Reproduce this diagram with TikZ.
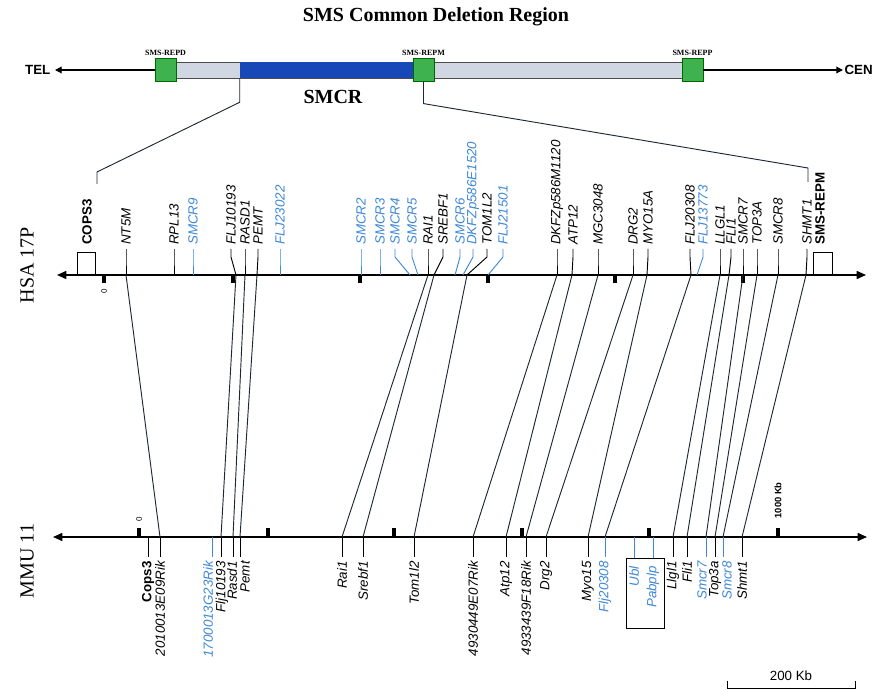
\documentclass[tikz,border=0pt]{standalone}
\usepackage{fontspec}
\setmainfont{Liberation Serif}
\setsansfont{Liberation Sans}
\usetikzlibrary{arrows.meta}
\definecolor{geneblue}{RGB}{62,136,214}
\definecolor{boxgreen}{RGB}{62,178,78}
\definecolor{smcrblue}{RGB}{24,72,184}
\definecolor{bargrey}{RGB}{208,214,226}
\definecolor{linkgrey}{RGB}{30,40,50}

\begin{document}
\begin{tikzpicture}[x=0.75pt,y=-0.75pt,
    genelab/.style={font=\sffamily\itshape\fontsize{10}{10}\selectfont, rotate=90, inner sep=3pt},
    hsalab/.style={genelab, anchor=west},
    mmulab/.style={genelab, anchor=east},
    boldlab/.style={font=\sffamily\bfseries\fontsize{10}{10}\selectfont, rotate=90, inner sep=3pt},
    greenbox/.style={draw=black!60!green, fill=boxgreen, minimum width=15.5pt, minimum height=17pt, inner sep=0pt},
    repslab/.style={font=\bfseries\fontsize{6}{6}\selectfont, inner sep=1pt},
    axisline/.style={line width=1.2pt, {Triangle[length=7pt,width=6pt]}-{Triangle[length=7pt,width=6pt]}},
    toparrow/.style={line width=0.9pt, -{Triangle[length=5pt,width=5pt]}},
    link/.style={linkgrey, line width=0.7pt},
    tick/.style={line width=0.7pt}
]
\useasboundingbox (0,0) rectangle (872,691);

% deletion region
\node[font=\bfseries\fontsize{15}{15}\selectfont] (title) at (436,17) {SMS Common Deletion Region};
\node[draw=black!70, fill=bargrey, minimum width=379.5pt, minimum height=12pt, inner sep=0pt] (greybar) at (429,70) {};
\node[fill=smcrblue, minimum width=131.25pt, minimum height=12pt, inner sep=0pt] (smcrbar) at (327.5,70) {};
\node[greenbox] (repd) at (165.5,70) {};
\node[greenbox] (repm) at (423.5,70) {};
\node[greenbox] (repp) at (692.5,70) {};
\node[repslab, above=1pt] (repdlab) at (repd.north) {SMS-REPD};
\node[repslab, above=1pt] (repmlab) at (repm.north) {SMS-REPM};
\node[repslab, above=1pt] (repplab) at (repp.north) {SMS-REPP};
\node[font=\bfseries\fontsize{15}{15}\selectfont] (smcr) at (333,97) {SMCR};
\node[font=\sffamily\bfseries\fontsize{10}{10}\selectfont, anchor=east] (tel) at (55,70) {TEL};
\node[font=\sffamily\bfseries\fontsize{10}{10}\selectfont, anchor=west, inner sep=1pt] (cen) at (843,70) {CEN};
\draw[toparrow] (repd.west) -- (tel.east);
\draw[toparrow] (repp.east) -- (cen.west);

% species axes
\node[font=\fontsize{15}{15}\selectfont, rotate=90] (hsa) at (27,265) {HSA 17P};
\node[font=\fontsize{15}{15}\selectfont, rotate=90] (mmu) at (27,561) {MMU 11};
\coordinate (hsaL) at (57,275);
\coordinate (hsaR) at (866,275);
\coordinate (mmuL) at (53,537);
\coordinate (mmuR) at (867,537);
\draw[axisline] (hsaL) -- (hsaR);
\draw[axisline] (mmuL) -- (mmuR);
\foreach \x in {104,233,360,488,615,743}
    \fill (\x-1.8,275) rectangle (\x+1.8,283);
\foreach \x in {139,268,394,522,649,778}
    \fill (\x-1.8,528) rectangle (\x+1.8,537);
\node[font=\sffamily\fontsize{6}{6}\selectfont, rotate=90] (hzero) at (104,291) {0};
\node[font=\sffamily\fontsize{6}{6}\selectfont, rotate=90] (mzero) at (139,519) {0};
\node[font=\sffamily\bfseries\fontsize{7}{7}\selectfont, rotate=90, anchor=west] (kb) at (778,523) {1000 Kb};

% human genes
\node[draw, minimum width=13.5pt, minimum height=16.5pt, inner sep=0pt, anchor=south] (copsbox) at (86,275) {};
\node[boldlab, anchor=west] (cops) at (87,249) {COPS3};
\node[draw, minimum width=14.25pt, minimum height=16.5pt, inner sep=0pt, anchor=south] (repmbox) at (822.5,275) {};
\node[boldlab, anchor=west] (repmgene) at (820,249) {SMS-REPM};
\coordinate (zl) at (97,184);
\coordinate (zr) at (808,182);
\draw[link] (smcrbar.south west) -- ++(0,24) -- (97,172) -- (zl);
\draw[link] (repm.south) -- ++(0,22) -- (808,168) -- (zr);

\foreach \i/\lx/\ax/\col/\txt in {
    1/126/126/black/NT5M, 2/174/174/black/RPL13, 3/193/193/geneblue/SMCR9,
    4/231/236/black/FLJ10193, 5/245/245/black/RASD1, 6/258/257/black/PEMT,
    7/280/280/geneblue/FLJ23022, 8/361/361/geneblue/SMCR2, 9/380/380/geneblue/SMCR3,
    10/395/410/geneblue/SMCR4, 11/412/418/geneblue/SMCR5, 12/428/428/black/RAI1,
    13/443/434/black/SREBF1, 14/460/455/geneblue/SMCR6, 15/473/463/geneblue/DKFZp586E1520,
    16/487/467/black/TOM1L2, 17/503/488/geneblue/FLJ21501, 18/557/557/black/DKFZp586M1120,
    19/573/572/black/ATP12, 20/598/598/black/MGC3048, 21/633/633/black/DRG2,
    22/648/647/black/MYO15A, 23/690/691/black/FLJ20308, 24/703/697/geneblue/FLJ13773,
    25/720/720/black/LLGL1, 26/731/729/black/FLI1, 27/743/743/black/SMCR7,
    28/757/757/black/TOP3A, 29/778/778/black/SMCR8, 30/807/806/black/SHMT1}{
    \node[hsalab, text=\col] (h\i) at (\lx,249) {\txt};
    \coordinate (ha\i) at (\ax,275);
    \draw[tick, \col] (h\i.west) -- ++(0,8) -- (ha\i);
}

% mouse genes
\coordinate (maa) at (148,537);
\node[boldlab, anchor=east] (ma) at (148,557) {Cops3};
\draw[tick] (maa) -- (maa |- ma.east);
\foreach \j/\lx/\mx/\col/\txt in {
    b/160/160/black/2010013E09Rik, c/208/212/geneblue/1700013G23Rik,
    d/222/221/black/Flj10193, e/232/233/black/Rasd1, f/245/240/black/Pemt,
    g/342/342/black/Rai1, h/363/363/black/Srebf1, i/414/414/black/Tom1l2,
    j/473/473/black/4930449E07Rik, k/506/506/black/Atp12, l/526/526/black/4933439F18Rik,
    m/546/546/black/Drg2, n/588/588/black/Myo15, o/605/605/geneblue/Flj20308,
    r/673/673/black/Llgl1, s/687/687/black/Fli1, t/702/706/geneblue/Smcr7,
    u/715/715/black/Top3a, v/727/723/geneblue/Smcr8, w/742/742/black/Shmt1}{
    \coordinate (ma\j) at (\mx,537);
    \node[mmulab, text=\col] (m\j) at (\lx,557) {\txt};
    \draw[tick, \col] (ma\j) -- (ma\j |- m\j.east);
}
\node[draw, minimum width=28.5pt, minimum height=52.5pt, inner sep=0pt, anchor=north west] (ublbox) at (626,558) {};
\coordinate (map) at (634,537);
\coordinate (maq) at (653,537);
\node[mmulab, text=geneblue] (mp) at (634,562) {Ubl};
\node[mmulab, text=geneblue] (mq) at (653,562) {Pabplp};
\draw[tick, geneblue] (map) -- (map |- ublbox.north);
\draw[tick, geneblue] (maq) -- (maq |- ublbox.north);

% orthologue links
\foreach \a/\b in {1/b,4/d,5/e,6/f,12/g,13/h,16/i,18/j,19/k,20/l,21/m,22/n,23/o,25/r,26/s,27/t,28/u,29/v,30/w}
    \draw[link] (ha\a) -- (ma\b);

% scale
\node[font=\sffamily\fontsize{10}{10}\selectfont] (scale) at (791,676) {200 Kb};
\coordinate (sl) at (727,688);
\coordinate (sr) at (855,688);
\draw[line width=0.7pt] (sl) ++(0,-7) -- (sl) -- (sr) -- ++(0,-7);
\end{tikzpicture}
\end{document}
